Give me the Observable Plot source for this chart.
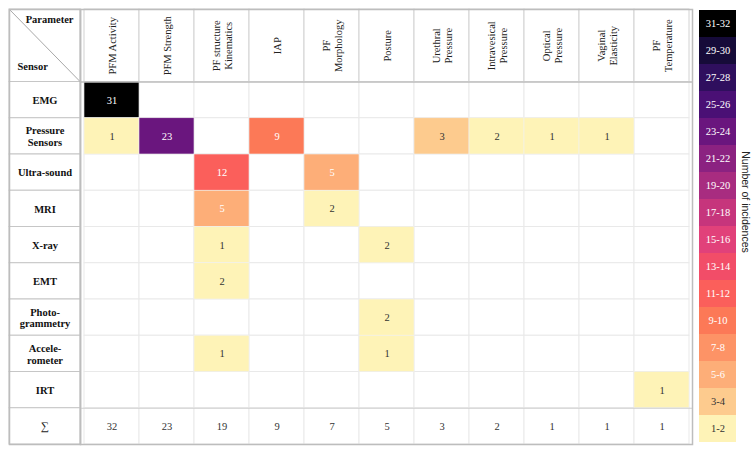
<!DOCTYPE html>
<html><head><meta charset="utf-8">
<script src="https://cdn.jsdelivr.net/npm/d3@7"></script>
<script src="https://cdn.jsdelivr.net/npm/@observablehq/plot@0.6"></script>
<style>
body{margin:0;background:#fff}
#chart{position:relative;width:755px;height:452px;background:#fff}
#chart svg{position:absolute;left:0;top:0}
</style></head><body><div id="chart"></div>
<script>
// ---- data ----
const parameters = ["PFM Activity","PFM Strength","PF structure\nKinematics","IAP","PF\nMorphology","Posture","Urethral\nPressure","Intravesical\nPressure","Optical\nPressure","Vaginal\nElasticity","PF\nTemperature"];
const sensors = ["EMG","Pressure\nSensors","Ultra-sound","MRI","X-ray","EMT","Photo-\ngrammetry","Accele-\nrometer","IRT"];
const emg          = [31,null,null,null,null,null,null,null,null,null,null];
const pressure     = [1,23,null,9,null,null,3,2,1,1,null];
const ultrasound   = [null,null,12,null,5,null,null,null,null,null,null];
const mri          = [null,null,5,null,2,null,null,null,null,null,null];
const xray         = [null,null,1,null,null,2,null,null,null,null,null];
const emt          = [null,null,2,null,null,null,null,null,null,null,null];
const photo        = [null,null,null,null,null,2,null,null,null,null,null];
const accel        = [null,null,1,null,null,1,null,null,null,null,null];
const irt          = [null,null,null,null,null,null,null,null,null,null,1];
const totals       = [32,23,19,9,7,5,3,2,1,1,1];
const sumLabel = "∑";
const binLabels = ["1-2","3-4","5-6","7-8","9-10","11-12","13-14","15-16","17-18","19-20","21-22","23-24","25-26","27-28","29-30","31-32"];
const binLows   = [1,3,5,7,9,11,13,15,17,19,21,23,25,27,29,31];
const palette   = ["#fef3b7","#fdcb8e","#fdae78","#fd9366","#fc7957","#fb5f5b","#f24d68","#e1417a","#c6357c","#a82c80","#8b2281","#6a167e","#4a1075","#2f0f5e","#160b39","#000000"];
const legendTitle = "Number of incidences";

// ---- derived tables ----
const rows = [emg, pressure, ultrasound, mri, xray, emt, photo, accel, irt];
const allRowIdx = d3.range(sensors.length + 1);
const gridCells = allRowIdx.flatMap(i => parameters.map(p => ({p, i})));
const filled = rows.flatMap((r, i) => r.map((v, j) => ({p: parameters[j], i, v})).filter(d => d.v != null));
const totalCells = parameters.map((p, j) => ({p, v: totals[j]}));
const bins = binLabels.map((label, k) => ({label, low: binLows[k]}));
const labelRows = [{y1: 0, y2: 2}].concat(allRowIdx.map(i => ({y1: i + 2, y2: i + 3})));

const W = 755, H = 452;
const serif = "'Liberation Serif', 'Times New Roman', serif";
const style = {background: "transparent", overflow: "visible", fontFamily: serif};
const colorScale = {type: "threshold", domain: binLows.slice(1), range: palette};
const yRows = {domain: [0, sensors.length + 3], reverse: true, axis: null};
const fs = 10.5;

// ---- main grid ----
const grid = Plot.plot({
  width: W, height: H, marginLeft: 80, marginRight: 63, marginTop: 9, marginBottom: 8, style,
  x: {type: "band", domain: parameters, padding: 0, axis: null},
  y: yRows,
  color: colorScale,
  marks: [
    Plot.barY(parameters, {x: d => d, y1: 0, y2: 2, fill: "white", stroke: "#d2d2d2"}),
    Plot.barY(gridCells, {x: "p", y1: d => d.i + 2, y2: d => d.i + 3, fill: "white", stroke: "#e9e9e9"}),
    Plot.barY(filled, {x: "p", y1: d => d.i + 2, y2: d => d.i + 3, fill: "v", stroke: "#f0f0f0", strokeWidth: 0.6}),
    Plot.text(parameters, {x: d => d, y: 1, text: d => d, rotate: -90, lineHeight: 1.12, fontSize: fs, fill: "#222"}),
    Plot.text(filled.filter(d => d.v >= 5), {x: "p", y: d => d.i + 2.5, text: "v", fontSize: fs, fill: "white"}),
    Plot.text(filled.filter(d => d.v < 5), {x: "p", y: d => d.i + 2.5, text: "v", fontSize: fs, fill: "#333"}),
    Plot.text(totalCells, {x: "p", y: sensors.length + 2.5, text: "v", fontSize: fs, fill: "#333"}),
    Plot.ruleY([2], {stroke: "#bdbdbd", strokeWidth: 1.5}),
    Plot.ruleY([sensors.length + 2], {stroke: "#cfcfcf", strokeWidth: 1}),
    Plot.frame({stroke: "#bdbdbd", strokeWidth: 1.5})
  ]
});

// ---- sensor label column ----
const labels = Plot.plot({
  width: W, height: H, marginLeft: 9, marginRight: W - 80, marginTop: 9, marginBottom: 8, style,
  x: {domain: [0, 1], axis: null},
  y: yRows,
  marks: [
    Plot.rect(labelRows, {x1: 0, x2: 1, y1: "y1", y2: "y2", fill: "white", stroke: "#c6c6c6"}),
    Plot.link([0], {x1: 0, y1: 0, x2: 1, y2: 2, stroke: "#a8a8a8"}),
    Plot.text(["Parameter"], {x: 1, y: 0, text: d => d, dx: -7, dy: 10, textAnchor: "end", fontWeight: "bold", fontSize: fs, fill: "#111"}),
    Plot.text(["Sensor"], {x: 0, y: 2, text: d => d, dx: 8, dy: -15, textAnchor: "start", fontWeight: "bold", fontSize: fs, fill: "#111"}),
    Plot.text(sensors, {x: 0.5, y: (d, i) => i + 2.5, text: d => d, fontWeight: "bold", lineHeight: 1.12, fontSize: fs, fill: "#111"}),
    Plot.text([sumLabel], {x: 0.5, y: sensors.length + 2.5, text: d => d, fontSize: fs + 1, fill: "#222"}),
    Plot.frame({stroke: "#bdbdbd", strokeWidth: 1.5})
  ]
});

// ---- colour legend ----
const legend = Plot.plot({
  width: W, height: H, marginLeft: 699, marginRight: 19, marginTop: 9, marginBottom: 10, style,
  x: {type: "band", domain: ["bin"], padding: 0, axis: null},
  y: {type: "band", domain: binLabels.slice().reverse(), padding: 0, axis: null},
  color: colorScale,
  marks: [
    Plot.cell(bins, {x: () => "bin", y: "label", fill: "low"}),
    Plot.text(bins.filter(d => d.low >= 5), {x: () => "bin", y: "label", text: "label", fontSize: fs, fill: "white"}),
    Plot.text(bins.filter(d => d.low < 5), {x: () => "bin", y: "label", text: "label", fontSize: fs, fill: "#333"}),
    Plot.text([legendTitle], {frameAnchor: "right", textAnchor: "middle", text: d => d, dx: 9, dy: -24, rotate: 90, fontSize: 10.5,
      fontFamily: "'Liberation Sans', Arial, sans-serif", fill: "#222"})
  ]
});

const root = document.getElementById("chart");
root.append(labels, grid, legend);
</script>
</body></html>
